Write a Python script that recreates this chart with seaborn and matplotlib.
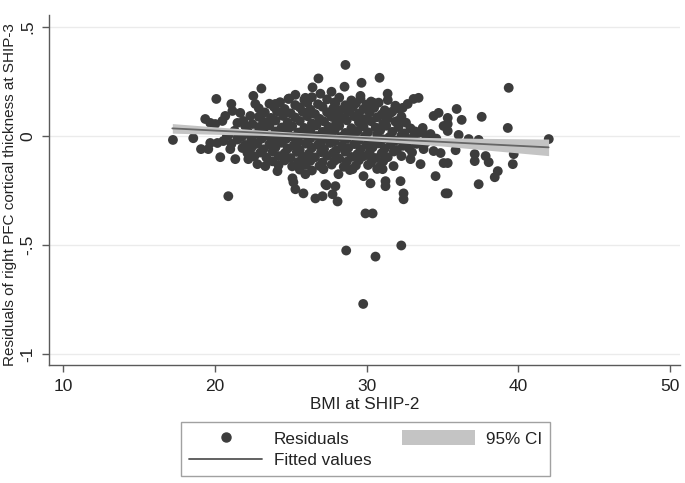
import numpy as np
import pandas as pd
import matplotlib
matplotlib.use("Agg")
import matplotlib.pyplot as plt
from matplotlib.lines import Line2D
from matplotlib.patches import Patch
import seaborn as sns

# ---------------- data ----------------
left_pts = [(17.24, -0.018), (18.58, -0.010), (19.09, -0.060), (19.37, 0.078), (20.10, 0.170),
            (21.09, 0.147), (20.36, -0.097), (20.89, -0.276), (19.70, 0.060), (20.03, 0.055),
            (20.50, 0.069), (20.69, 0.092), (21.16, 0.115), (21.68, 0.106), (21.49, 0.060),
            (21.88, 0.069), (22.34, 0.092), (22.54, 0.184), (22.67, 0.147), (22.48, 0.055),
            (19.70, -0.032), (19.57, -0.060), (20.17, -0.032), (20.56, -0.023), (21.02, -0.060),
            (21.35, -0.106), (21.82, -0.055), (22.15, -0.078), (22.21, -0.106), (22.81, -0.129),
            (22.67, -0.037), (20.80, 0.000), (21.50, -0.010), (22.00, 0.010)]

upper_pts = [(28.61, 0.326), (26.83, 0.264), (28.55, 0.226), (23.07, 0.218), (27.69, 0.203),
             (26.44, 0.223), (25.31, 0.189), (24.85, 0.170), (23.99, 0.147), (25.97, 0.175),
             (26.96, 0.194), (27.95, 0.152), (30.86, 0.267), (29.67, 0.244), (33.43, 0.175),
             (33.10, 0.170), (32.71, 0.147), (32.38, 0.129), (31.39, 0.194), (30.46, 0.152),
             (29.60, 0.184), (34.75, 0.106), (34.42, 0.092), (35.35, 0.083), (35.08, 0.046),
             (33.70, 0.037), (34.22, 0.009), (33.43, 0.014), (31.58, 0.106), (32.05, 0.069)]

lower_pts = [(23.33, -0.138), (24.13, -0.161), (25.12, -0.194), (25.97, -0.175), (27.16, -0.152),
             (28.15, -0.175), (25.18, -0.212), (27.29, -0.221), (27.95, -0.230), (25.31, -0.244),
             (25.84, -0.263), (26.63, -0.286), (27.10, -0.276), (27.76, -0.267), (28.09, -0.300),
             (29.08, -0.152), (27.36, -0.226), (32.90, -0.106), (33.56, -0.129), (34.42, -0.069),
             (34.88, -0.078), (35.08, -0.124), (29.80, -0.184), (30.26, -0.217), (31.25, -0.207),
             (32.24, -0.207), (32.44, -0.263), (32.44, -0.290), (34.55, -0.184), (35.21, -0.263),
             (31.78, -0.138), (31.06, -0.152), (30.26, -0.092), (33.76, -0.060), (29.93, -0.355),
             (30.40, -0.355), (31.25, -0.230), (33.90, -0.030), (34.60, -0.012), (33.00, -0.075)]

right_pts = [(39.37, 0.221), (35.94, 0.124), (36.27, 0.074), (37.59, 0.088), (39.31, 0.037),
             (35.35, 0.055), (35.35, 0.023), (36.07, 0.005), (36.73, -0.014), (37.39, -0.018),
             (42.01, -0.014), (35.87, -0.065), (37.13, -0.083), (37.13, -0.115), (37.85, -0.092),
             (38.05, -0.120), (39.70, -0.083), (39.64, -0.129), (38.65, -0.161), (38.45, -0.189),
             (37.39, -0.221), (35.35, -0.124), (35.35, -0.263)]

outlier_pts = [(28.66, -0.525), (30.59, -0.553), (32.29, -0.502), (29.78, -0.770)]

core_pts = [
    (24.9, 0.172), (25.9, 0.166), (26.4, 0.178), (27.4, 0.168), (28.2, 0.176), (29.0, 0.163),
    (29.6, 0.171), (30.3, 0.158), (31.4, 0.165),
    (23.6, 0.148), (24.3, 0.155), (25.3, 0.142), (26.1, 0.152), (26.8, 0.146), (27.9, 0.154),
    (28.6, 0.141), (29.3, 0.150), (30.0, 0.144), (30.8, 0.153), (31.9, 0.139),
    (22.9, 0.127), (23.9, 0.133), (24.6, 0.124), (25.6, 0.131), (26.3, 0.121), (27.1, 0.134),
    (27.8, 0.126), (28.3, 0.119), (29.1, 0.132), (29.8, 0.124), (30.5, 0.129), (31.2, 0.118),
    (32.1, 0.126),
    (23.3, 0.108), (24.1, 0.113), (25.0, 0.104), (25.8, 0.111), (26.6, 0.101), (27.4, 0.109),
    (28.0, 0.097), (28.8, 0.112), (29.5, 0.103), (30.2, 0.108), (31.0, 0.099), (31.7, 0.112),
    (22.9, 0.088), (23.7, 0.083), (24.5, 0.092), (25.3, 0.085), (26.1, 0.091), (26.9, 0.079),
    (27.7, 0.088), (28.4, 0.082), (29.2, 0.090), (29.9, 0.077), (30.7, 0.086), (31.4, 0.081),
    (32.3, 0.089),
    (23.2, 0.066), (24.0, 0.071), (24.8, 0.062), (25.6, 0.069), (26.4, 0.058), (27.2, 0.067),
    (28.0, 0.061), (28.7, 0.072), (29.5, 0.063), (30.3, 0.068), (31.1, 0.057), (31.9, 0.066),
    (32.6, 0.061),
    (22.0, 0.046), (22.9, 0.041), (23.6, 0.048), (24.4, 0.039), (25.1, 0.045), (25.9, 0.037),
    (26.7, 0.049), (27.5, 0.042), (28.2, 0.047), (29.0, 0.036), (29.8, 0.044), (30.6, 0.039),
    (31.3, 0.047), (32.1, 0.041), (32.9, 0.035),
    (21.3, 0.024), (22.2, 0.018), (23.2, 0.027), (24.0, 0.021), (24.8, 0.028), (25.5, 0.016),
    (26.3, 0.025), (27.1, 0.019), (27.9, 0.026), (28.6, 0.014), (29.4, 0.023), (30.1, 0.017),
    (30.9, 0.026), (31.7, 0.019), (32.5, 0.012), (33.2, 0.021),
    (20.9, 0.004), (21.8, -0.002), (22.6, 0.007), (23.5, 0.001), (24.3, 0.006), (25.1, -0.003),
    (25.9, 0.005), (26.7, 0.000), (27.5, 0.008), (28.3, -0.004), (29.1, 0.003), (29.9, -0.001),
    (30.7, 0.006), (31.5, -0.005), (32.3, 0.002), (33.1, -0.002), (33.9, 0.004),
    (21.5, -0.016), (22.4, -0.021), (23.1, -0.012), (23.9, -0.019), (24.7, -0.014), (25.5, -0.023),
    (26.3, -0.011), (27.1, -0.018), (27.9, -0.024), (28.7, -0.013), (29.5, -0.019), (30.3, -0.026),
    (31.1, -0.015), (31.9, -0.021), (32.7, -0.017),
    (21.1, -0.036), (22.0, -0.041), (22.8, -0.033), (23.6, -0.038), (24.4, -0.031), (25.2, -0.043),
    (26.0, -0.035), (26.8, -0.040), (27.6, -0.032), (28.4, -0.044), (29.2, -0.037), (30.0, -0.041),
    (30.8, -0.034), (31.6, -0.039), (32.4, -0.045), (33.3, -0.036),
    (22.4, -0.056), (23.2, -0.061), (24.0, -0.052), (24.8, -0.058), (25.6, -0.063), (26.4, -0.054),
    (27.2, -0.059), (28.0, -0.065), (28.8, -0.055), (29.6, -0.061), (30.4, -0.052), (31.2, -0.058),
    (32.0, -0.064), (32.8, -0.056),
    (23.0, -0.076), (23.8, -0.071), (24.6, -0.079), (25.4, -0.073), (26.2, -0.081), (27.0, -0.074),
    (27.8, -0.078), (28.6, -0.072), (29.4, -0.083), (30.2, -0.075), (31.0, -0.079), (31.8, -0.071),
    (22.6, -0.094), (23.4, -0.099), (24.2, -0.092), (25.0, -0.101), (25.8, -0.095), (26.6, -0.098),
    (27.4, -0.091), (28.2, -0.103), (29.0, -0.096), (29.8, -0.093), (30.6, -0.101), (31.4, -0.097),
    (32.3, -0.092),
    (23.8, -0.116), (24.6, -0.112), (25.5, -0.119), (26.3, -0.114), (27.1, -0.121), (27.9, -0.113),
    (28.7, -0.118), (29.5, -0.111), (30.3, -0.122), (31.1, -0.116),
    (24.2, -0.134), (25.1, -0.139), (26.0, -0.132), (26.9, -0.137), (27.7, -0.131), (28.5, -0.141),
    (29.3, -0.135), (30.1, -0.133), (30.9, -0.138),
    (25.6, -0.154), (26.4, -0.158), (28.9, -0.156), (30.7, -0.151),
]

# fitted line and its 95% CI band
fit_bmi = [17.2, 20, 23, 26, 29, 32, 35, 38, 42]
fit_resid = [0.035, 0.025, 0.015, 0.004, -0.006, -0.017, -0.027, -0.038, -0.052]
ci_low = [0.013, 0.008, 0.003, -0.006, -0.016, -0.030, -0.046, -0.065, -0.090]
ci_high = [0.057, 0.042, 0.027, 0.014, 0.004, -0.004, -0.008, -0.011, -0.014]

x_ticks = [10, 20, 30, 40, 50]
y_ticks = [-1, -0.5, 0, 0.5]
y_tick_labels = ["-1", "-.5", "0", ".5"]

# ---------------- build frame ----------------
all_pts = core_pts + left_pts + upper_pts + lower_pts + right_pts + outlier_pts
df = pd.DataFrame(all_pts, columns=["bmi", "resid"])

# ---------------- style ----------------
sns.set_style("white")
plt.rcParams["font.family"] = ["Liberation Sans", "DejaVu Sans"]

PT = "#3c3c3c"
BAND = "#c4c4c4"
LINE = "#666666"

fig = plt.figure(figsize=(6.85, 4.83), dpi=100)
ax = fig.add_axes([0.0715, 0.2443, 0.9212, 0.7247])

# gridlines
for yt in y_ticks:
    ax.axhline(yt, color="#ebebeb", lw=1.0, zorder=0)

sns.scatterplot(data=df, x="bmi", y="resid", ax=ax, color=PT, s=50,
                edgecolor="none", linewidth=0, zorder=2, legend=False)
ax.fill_between(fit_bmi, ci_low, ci_high, color=BAND, lw=0, zorder=3)
sns.lineplot(x=fit_bmi, y=fit_resid, ax=ax, color=LINE, lw=1.3, zorder=4,
             estimator=None, sort=False)

ax.set_xlim(9.07, 50.66)
ax.set_ylim(-1.05, 0.555)
ax.set_xticks(x_ticks)
ax.set_xticklabels([str(t) for t in x_ticks])
ax.set_yticks(y_ticks)
ax.set_yticklabels(y_tick_labels, rotation=90, va="center")

for side in ["top", "right"]:
    ax.spines[side].set_visible(False)
for side in ["left", "bottom"]:
    ax.spines[side].set_color("#5a5a5a")
    ax.spines[side].set_linewidth(1.0)

ax.tick_params(axis="both", direction="out", length=5, width=1.0, color="#5a5a5a",
               labelsize=12.5, labelcolor="#222222", pad=5)
ax.tick_params(axis="x", bottom=True)
ax.tick_params(axis="y", left=True)

ax.set_xlabel("BMI at SHIP-2", fontsize=12.3, color="#222222", labelpad=2)
ax.set_ylabel("Residuals of right PFC cortical thickness at SHIP-3", fontsize=11.0,
              color="#222222")
ax.yaxis.set_label_coords(-0.050, 0.487)

handles = [
    Line2D([0], [0], marker="o", linestyle="none", markersize=6.5,
           markerfacecolor=PT, markeredgecolor=PT),
    Line2D([0], [0], color="#555555", lw=1.3),
    Patch(facecolor=BAND, edgecolor="none"),
]
labels = ["Residuals", "Fitted values", "95% CI"]
leg = fig.legend(handles, labels, ncol=2, loc="center", bbox_to_anchor=(0.534, 0.070),
                 frameon=True, fancybox=False, shadow=False, fontsize=12.3,
                 handlelength=4.3, handleheight=1.0, handletextpad=0.65,
                 columnspacing=1.8, labelspacing=0.3, borderpad=0.45)
leg.get_frame().set_edgecolor("#8a8a8a")
leg.get_frame().set_linewidth(1.0)
for t in leg.get_texts():
    t.set_color("#222222")

fig.savefig("out.png", dpi=100)
